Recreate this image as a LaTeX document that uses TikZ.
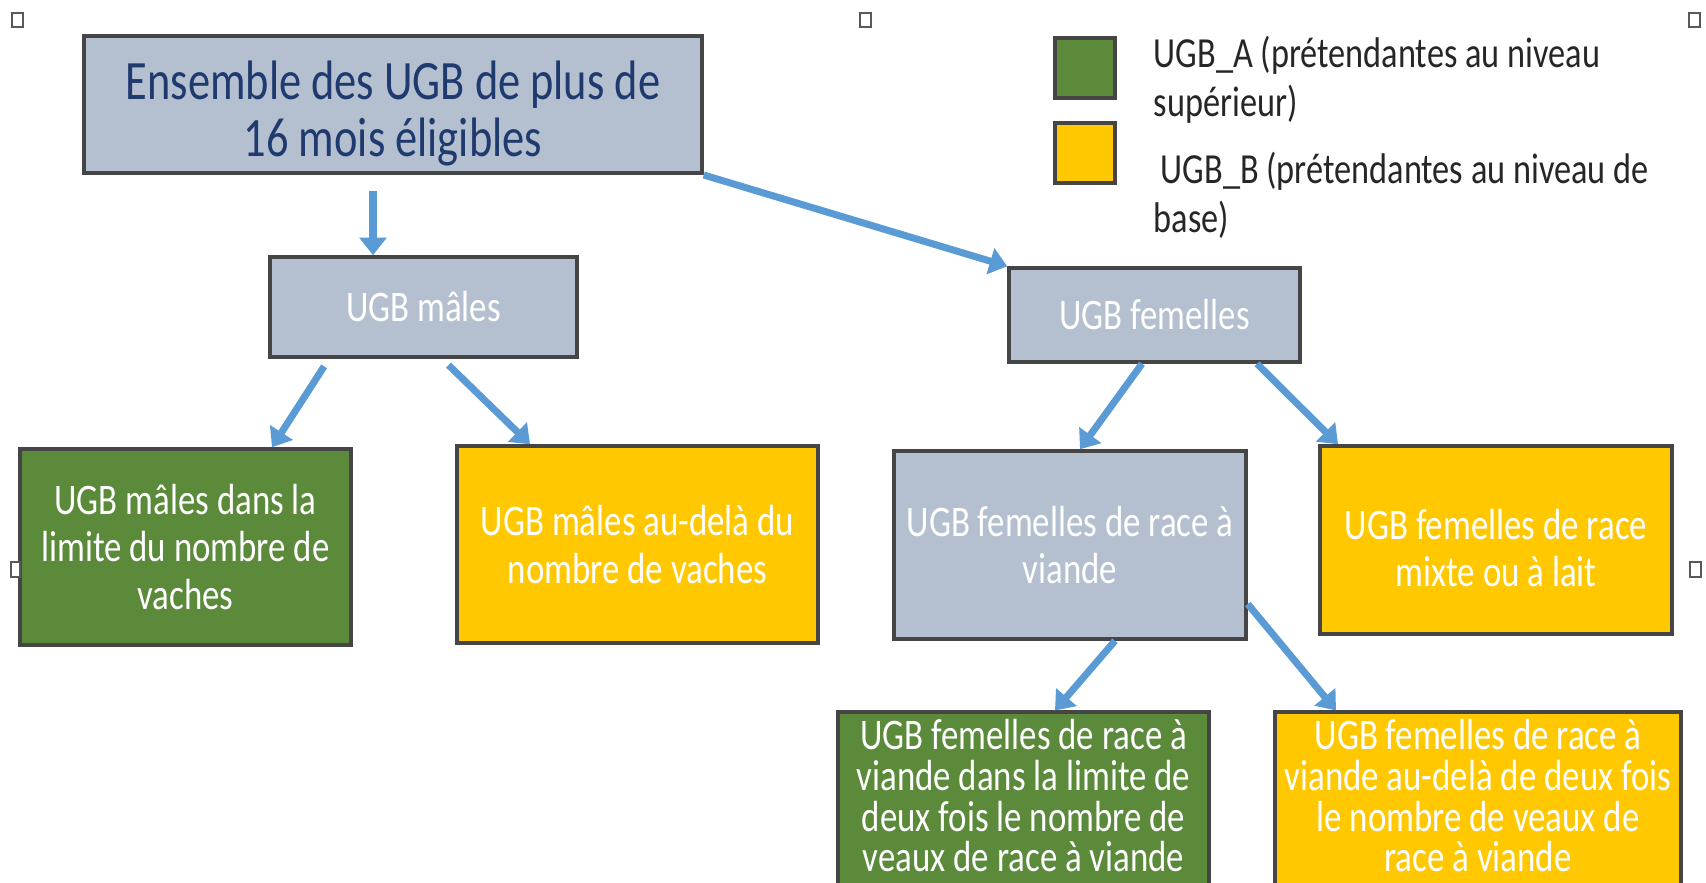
\documentclass[tikz,border=0pt]{standalone}
\usepackage{fontspec}
\setmainfont{Carlito}[FakeStretch=0.8]
\usetikzlibrary{arrows.meta}

\definecolor{boxgrey}{HTML}{B4BFD0}
\definecolor{boxgreen}{HTML}{5A8A3A}
\definecolor{boxyellow}{HTML}{FFC800}
\definecolor{edgegrey}{HTML}{454545}
\definecolor{linkblue}{HTML}{5B9BD5}
\definecolor{titleblue}{HTML}{1F3A6E}

\begin{document}
\begin{tikzpicture}[
  box/.style={draw=edgegrey, line width=1pt, align=center, inner sep=2pt, text=white, font=\fontsize{12.4}{13.4}\selectfont},
  greybox/.style={box, fill=boxgrey},
  greenbox/.style={box, fill=boxgreen},
  yellowbox/.style={box, fill=boxyellow},
  link/.style={draw=linkblue, line width=2pt, -{Triangle[width=7.5pt,length=5pt]}},
  marker/.style={draw=gray!70!black, fill=white, line width=0.4pt},
  legtext/.style={anchor=west, align=left, inner sep=0pt, text=black!85, font=\fontsize{12.2}{13.9}\selectfont}
]
\useasboundingbox (0,0) rectangle (17.06,-8.82);
\clip (0,0) rectangle (17.06,-8.82);

% top of the tree
\node[greybox, minimum width=6.18cm, minimum height=1.33cm, text=titleblue, font=\fontsize{15.8}{16.4}\selectfont] (all) at (3.93,-1.045) {\rule{0pt}{16pt}Ensemble des UGB de plus de\\16 mois éligibles};
\node[greybox, minimum width=3.07cm, minimum height=1.00cm] (mal) at (4.235,-3.07) {UGB mâles};
\node[greybox, minimum width=2.91cm, minimum height=0.94cm] (fem) at (11.545,-3.15) {UGB femelles};

% second level
\node[greenbox, minimum width=3.31cm, minimum height=1.96cm] (mg) at (1.855,-5.47) {UGB mâles dans la\\limite du nombre de\\vaches};
\node[yellowbox, minimum width=3.61cm, minimum height=1.97cm] (my) at (6.375,-5.445) {UGB mâles au-delà du\\nombre de vaches};
\node[greybox, minimum width=3.52cm, minimum height=1.88cm] (vi) at (10.70,-5.45) {UGB femelles de race à\\viande};
\node[yellowbox, minimum width=3.52cm, minimum height=1.88cm] (fy) at (14.96,-5.40) {\rule{0pt}{13pt}UGB femelles de race\\mixte ou à lait};

% bottom level (cut by the page edge)
\node[greenbox, minimum width=3.71cm, minimum height=1.75cm, font=\fontsize{12.4}{11.6}\selectfont] (vg) at (10.235,-8.025) {UGB femelles de race à\\viande dans la limite de\\deux fois le nombre de\\veaux de race à viande\rule[-4pt]{0pt}{4pt}};
\node[yellowbox, minimum width=4.06cm, minimum height=1.75cm, font=\fontsize{12.4}{11.6}\selectfont] (vy) at (14.78,-8.025) {UGB femelles de race à\\viande au-delà de deux fois\\le nombre de veaux de\\race à viande\rule[-4pt]{0pt}{4pt}};

% legend
\node[greenbox, minimum size=0.6cm] (keyA) at (10.85,-0.68) {};
\node[yellowbox, minimum size=0.6cm] (keyB) at (10.85,-1.53) {};
\node[legtext] (legA) at (11.53,-0.80) {UGB\_A (prétendantes au niveau\\supérieur)};
\node[legtext] (legB) at (11.53,-1.95) {\hspace{2pt}UGB\_B (prétendantes au niveau de\\base)};

% arrows
\coordinate (topin) at ([xshift=-0.505cm]mal.north);
\draw[link, shorten <=0.16cm] (topin |- all.south) -- (topin);
\draw[link] (all.south east) -- (fem.north west);
\draw[link, shorten <=0.09cm] ([xshift=-0.945cm]mal.south) -- ([xshift=0.865cm]mg.north);
\draw[link, shorten <=0.09cm] ([xshift=0.185cm]mal.south) -- ([xshift=-1.075cm]my.north);
\draw[link] ([xshift=-0.125cm]fem.south) -- ([xshift=0.10cm]vi.north);
\draw[link] ([xshift=1.025cm]fem.south) -- ([xshift=-1.58cm]fy.north);
\draw[link] ([xshift=0.45cm]vi.south) -- ([xshift=0.315cm]vg.north);
\draw[link] ([yshift=-0.59cm]vi.east) -- ([xshift=-1.42cm]vy.north);

% little squares
\draw[marker] (0.12,-0.13) rectangle ++(0.11,-0.14);
\draw[marker] (8.60,-0.13) rectangle ++(0.11,-0.14);
\draw[marker] (16.89,-0.13) rectangle ++(0.11,-0.14);
\draw[marker] (0.11,-5.62) rectangle ++(0.09,-0.15);
\draw[marker] (16.90,-5.62) rectangle ++(0.11,-0.15);
\end{tikzpicture}
\end{document}
